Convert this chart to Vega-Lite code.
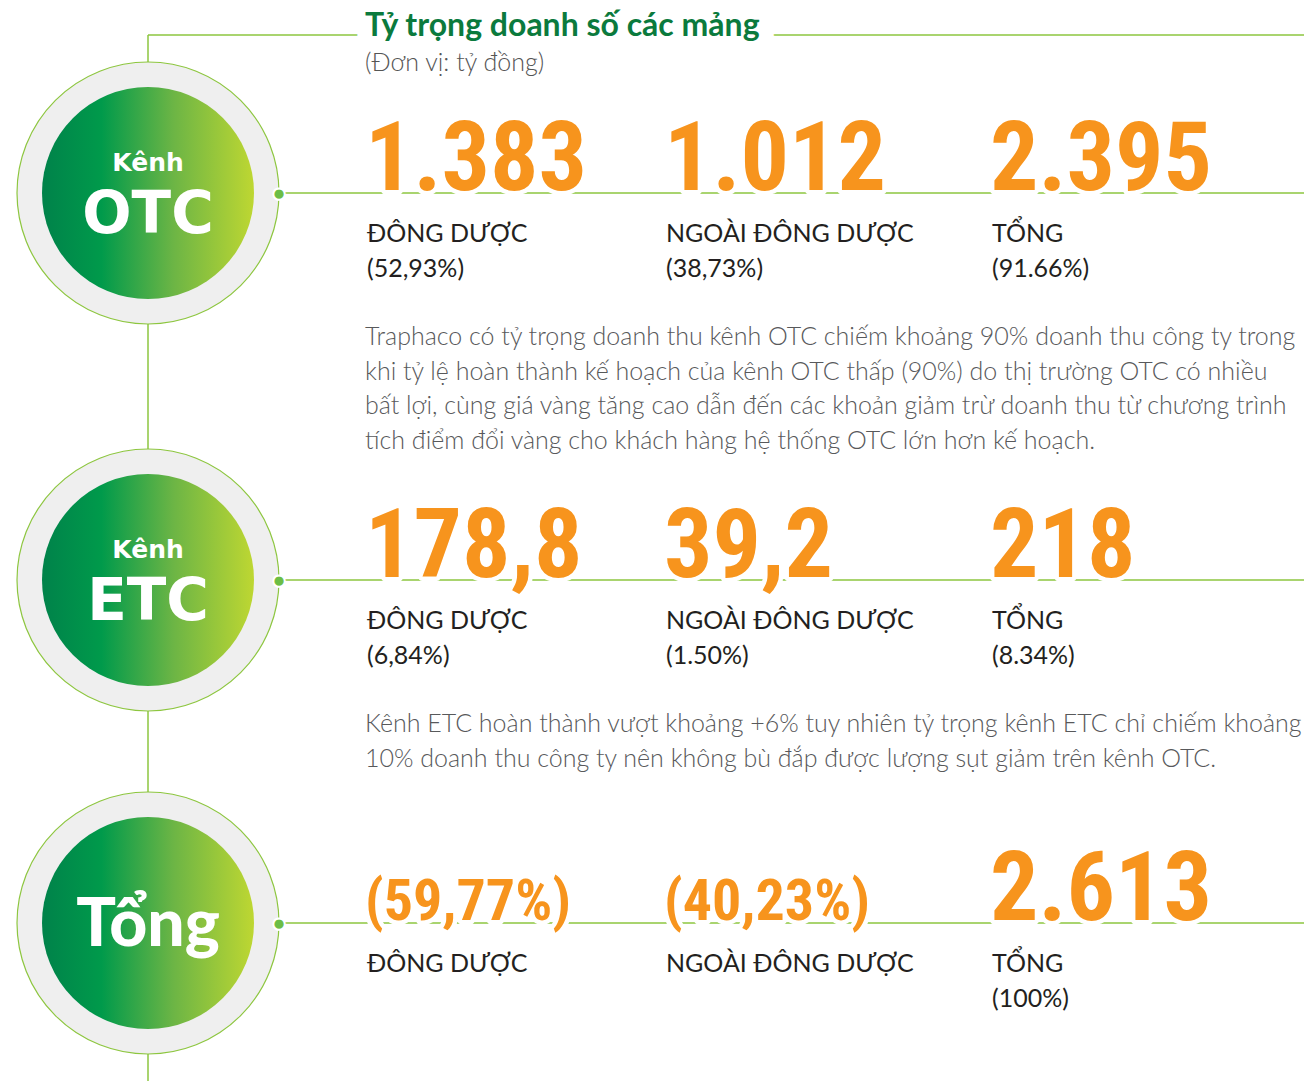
{
  "$schema": "https://vega.github.io/schema/vega-lite/v6.json",
  "width": 1304,
  "height": 1081,
  "autosize": {"type": "none"},
  "padding": 0,
  "background": "white",
  "config": {"view": {"stroke": null}},
  "datasets": {
    "cells": [
      {"channel": "OTC", "ch": 1, "segment": "ĐÔNG DƯỢC", "seg": 1, "headline": "1.383", "kind": "amount", "share": "(52,93%)"},
      {"channel": "OTC", "ch": 1, "segment": "NGOÀI ĐÔNG DƯỢC", "seg": 2, "headline": "1.012", "kind": "amount", "share": "(38,73%)"},
      {"channel": "OTC", "ch": 1, "segment": "TỔNG", "seg": 3, "headline": "2.395", "kind": "amount", "share": "(91.66%)"},
      {"channel": "ETC", "ch": 2, "segment": "ĐÔNG DƯỢC", "seg": 1, "headline": "178,8", "kind": "amount", "share": "(6,84%)"},
      {"channel": "ETC", "ch": 2, "segment": "NGOÀI ĐÔNG DƯỢC", "seg": 2, "headline": "39,2", "kind": "amount", "share": "(1.50%)"},
      {"channel": "ETC", "ch": 2, "segment": "TỔNG", "seg": 3, "headline": "218", "kind": "amount", "share": "(8.34%)"},
      {"channel": "Tổng", "ch": 3, "segment": "ĐÔNG DƯỢC", "seg": 1, "headline": "(59,77%)", "kind": "percent", "share": null},
      {"channel": "Tổng", "ch": 3, "segment": "NGOÀI ĐÔNG DƯỢC", "seg": 2, "headline": "(40,23%)", "kind": "percent", "share": null},
      {"channel": "Tổng", "ch": 3, "segment": "TỔNG", "seg": 3, "headline": "2.613", "kind": "amount", "share": "(100%)"}
    ],
    "badges": [
      {"channel": "OTC", "ch": 1, "seg": 0, "small": "Kênh", "big": "OTC"},
      {"channel": "ETC", "ch": 2, "seg": 0, "small": "Kênh", "big": "ETC"},
      {"channel": "Tổng", "ch": 3, "seg": 0, "small": "", "big": "Tổng"}
    ],
    "notes": [
      {"channel": "OTC", "ch": 1, "seg": 1, "note": ["Traphaco có tỷ trọng doanh thu kênh OTC chiếm khoảng 90% doanh thu công ty trong", "khi tỷ lệ hoàn thành kế hoạch của kênh OTC thấp (90%) do thị trường OTC có nhiều", "bất lợi, cùng giá vàng tăng cao dẫn đến các khoản giảm trừ doanh thu từ chương trình", "tích điểm đổi vàng cho khách hàng hệ thống OTC lớn hơn kế hoạch."]},
      {"channel": "ETC", "ch": 2, "seg": 1, "note": ["Kênh ETC hoàn thành vượt khoảng +6% tuy nhiên tỷ trọng kênh ETC chỉ chiếm khoảng", "10% doanh thu công ty nên không bù đắp được lượng sụt giảm trên kênh OTC."]}
    ],
    "heading": [
      {"ch": 0, "seg": 1, "title": "Tỷ trọng doanh số các mảng", "unit": "(Đơn vị: tỷ đồng)"}
    ],
    "links": [
      {"seg": 0, "seg2": 0, "ch": 0, "ch2": 4},
      {"seg": 0, "seg2": 4, "ch": 0, "ch2": 0},
      {"seg": 0, "seg2": 4, "ch": 1, "ch2": 1},
      {"seg": 0, "seg2": 4, "ch": 2, "ch2": 2},
      {"seg": 0, "seg2": 4, "ch": 3, "ch2": 3}
    ]
  },
  "encoding": {
    "x": {"field": "seg", "type": "quantitative", "axis": null,
          "scale": {"domain": [0, 1, 2, 3, 4], "range": [148, 363, 662, 988, 1304], "zero": false, "nice": false}},
    "y": {"field": "ch", "type": "quantitative", "axis": null,
          "scale": {"domain": [0, 1, 2, 3, 4], "range": [35, 193, 580, 923, 1081], "zero": false, "nice": false}}
  },
  "layer": [
    {
      "data": {"name": "links"},
      "mark": {"type": "rule", "stroke": "#8dc63f", "strokeWidth": 1.5},
      "encoding": {
        "x2": {"field": "seg2"},
        "y2": {"field": "ch2"}
      }
    },
    {
      "data": {"name": "badges"},
      "mark": {"type": "point", "shape": "circle", "filled": true, "size": 68644, "fill": "#efefef", "stroke": "#8dc63f", "strokeWidth": 1.2, "opacity": 1, "fillOpacity": 1, "strokeOpacity": 1}
    },
    {
      "data": {"name": "badges"},
      "mark": {"type": "point", "shape": "circle", "filled": true, "size": 44944, "opacity": 1, "strokeWidth": 0,
               "fill": {"gradient": "linear", "x1": 0, "y1": 0, "x2": 1, "y2": 0,
                        "stops": [{"offset": 0, "color": "#00824a"}, {"offset": 0.28, "color": "#009a4b"}, {"offset": 0.62, "color": "#6cb545"}, {"offset": 1, "color": "#bed732"}]}}
    },
    {
      "data": {"name": "badges"},
      "mark": {"type": "text", "text": "●", "dx": 131, "fontSize": 15, "fill": "#6cbd45", "stroke": "white", "strokeWidth": 2, "align": "center", "baseline": "middle", "font": "DejaVu Sans"}
    },
    {
      "data": {"name": "badges"},
      "mark": {"type": "text", "dy": -22, "fontSize": 25, "font": "DejaVu Sans", "fontWeight": "bold", "fill": "white", "align": "center", "baseline": "alphabetic"},
      "encoding": {"text": {"field": "small"}}
    },
    {
      "data": {"name": "badges"},
      "transform": [{"filter": "datum.small != ''"}],
      "mark": {"type": "text", "dy": 40, "fontSize": 58, "font": "DejaVu Sans", "fontWeight": "bold", "fill": "white", "align": "center", "baseline": "alphabetic"},
      "encoding": {"text": {"field": "big"}}
    },
    {
      "data": {"name": "badges"},
      "transform": [{"filter": "datum.small == ''"}],
      "mark": {"type": "text", "dy": 23, "fontSize": 66, "font": "Lato", "fontWeight": 900, "fill": "white", "align": "center", "baseline": "alphabetic"},
      "encoding": {"text": {"field": "big"}}
    },
    {
      "data": {"name": "heading"},
      "mark": {"type": "text", "dx": 2, "dy": 1, "fontSize": 32, "font": "Lato", "fontWeight": "bold", "fill": "white", "stroke": "white", "strokeWidth": 30, "strokeJoin": "round", "align": "left", "baseline": "alphabetic"},
      "encoding": {"text": {"field": "title"}}
    },
    {
      "data": {"name": "heading"},
      "mark": {"type": "text", "dx": 2, "dy": 1, "fontSize": 32, "font": "Lato", "fontWeight": "bold", "fill": "#0b7a3d", "align": "left", "baseline": "alphabetic"},
      "encoding": {"text": {"field": "title"}}
    },
    {
      "data": {"name": "heading"},
      "mark": {"type": "text", "dx": 2, "dy": 36, "fontSize": 25, "font": "Lato", "fontWeight": 300, "fill": "#555555", "align": "left", "baseline": "alphabetic"},
      "encoding": {"text": {"field": "unit"}}
    },
    {
      "data": {"name": "cells"},
      "mark": {"type": "text", "dx": 2, "dy": -3, "font": "Roboto Condensed, Roboto, sans-serif", "fontWeight": "bold", "fill": "white", "stroke": "white", "strokeWidth": 9, "strokeJoin": "round", "align": "left", "baseline": "alphabetic"},
      "encoding": {
        "text": {"field": "headline"},
        "size": {"field": "kind", "type": "ordinal", "scale": {"domain": ["amount", "percent"], "range": [96, 58]}, "legend": null}
      }
    },
    {
      "data": {"name": "cells"},
      "mark": {"type": "text", "dx": 2, "dy": -3, "font": "Roboto Condensed, Roboto, sans-serif", "fontWeight": "bold", "fill": "#f7941d", "align": "left", "baseline": "alphabetic"},
      "encoding": {
        "text": {"field": "headline"},
        "size": {"field": "kind", "type": "ordinal", "scale": {"domain": ["amount", "percent"], "range": [96, 58]}, "legend": null}
      }
    },
    {
      "data": {"name": "cells"},
      "mark": {"type": "text", "dx": 4, "dy": 49, "fontSize": 25, "font": "Lato", "fill": "#231f20", "align": "left", "baseline": "alphabetic"},
      "encoding": {"text": {"field": "segment"}}
    },
    {
      "data": {"name": "cells"},
      "transform": [{"filter": "isValid(datum.share)"}],
      "mark": {"type": "text", "dx": 4, "dy": 84, "fontSize": 25, "font": "Lato", "fill": "#231f20", "align": "left", "baseline": "alphabetic"},
      "encoding": {"text": {"field": "share"}}
    },
    {
      "data": {"name": "notes"},
      "mark": {"type": "text", "dx": 2, "dy": 152, "fontSize": 25, "font": "Lato", "fontWeight": 300, "lineHeight": 34.7, "fill": "#58595b", "align": "left", "baseline": "alphabetic"},
      "encoding": {"text": {"field": "note"}}
    }
  ]
}
